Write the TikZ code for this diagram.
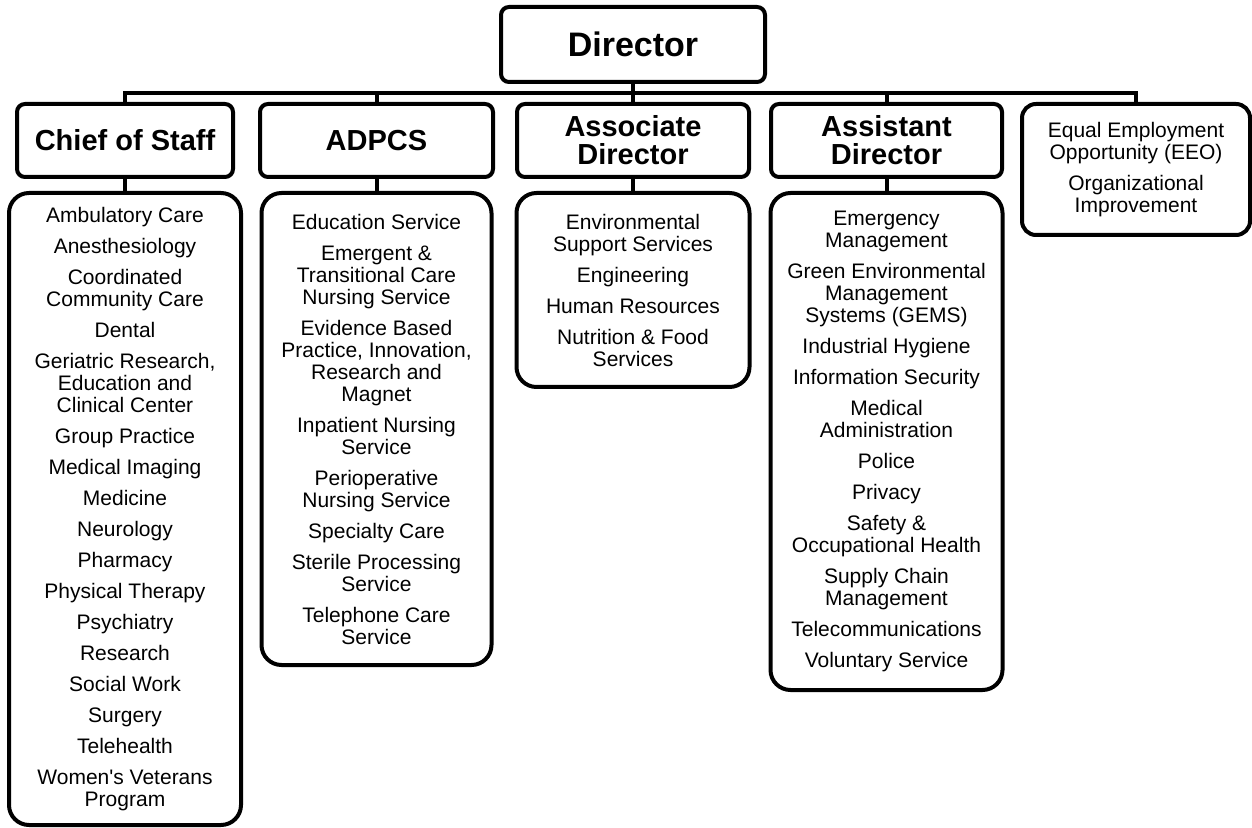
\documentclass[tikz,border=0pt]{standalone}
\usepackage{fontspec}
\setmainfont{Liberation Sans}
\begin{document}
\begin{tikzpicture}[x=0.5pt,y=-0.5pt,line width=2pt,
    topbox/.style={draw, rounded corners=4pt, inner sep=0pt,
        font=\fontsize{17}{20}\selectfont\bfseries},
    deptbox/.style={draw, rounded corners=4pt, inner sep=0pt, align=center,
        minimum height=36.5pt, font=\fontsize{14.5}{14}\selectfont\bfseries},
    listbox/.style={draw, rounded corners=10pt, inner sep=0pt, align=center,
        font=\fontsize{10.5}{11}\selectfont}]
    \def\gap{\\[4.5pt]}
    \useasboundingbox (0,0) rectangle (1252,828);

    % Director
    \node[topbox, minimum width=132pt, minimum height=37.5pt] (dir) at (633,44.5) {Director};

    % Second row
    \node[deptbox, minimum width=108pt] (cos) at (125,140.5) {Chief of Staff};
    \node[deptbox, minimum width=116.5pt] (adpcs) at (376.5,140.5) {ADPCS};
    \node[deptbox, minimum width=116pt] (adir) at (633,140.5) {Associate\\Director};
    \node[deptbox, minimum width=115.5pt] (asst) at (886.5,140.5) {Assistant\\Director};
    \node[listbox, rounded corners=7pt, minimum width=114pt, minimum height=65.5pt] (eeo) at (1136,169.5)
        {Equal Employment\\Opportunity (EEO)\gap Organizational\\Improvement};

    % Service lists
    \node[listbox, minimum width=116pt, minimum height=316pt] (cosl) at (125,509)
        {Ambulatory Care\gap Anesthesiology\gap Coordinated\\Community Care\gap Dental\gap
         Geriatric Research,\\Education and\\Clinical Center\gap Group Practice\gap
         Medical Imaging\gap Medicine\gap Neurology\gap Pharmacy\gap Physical Therapy\gap
         Psychiatry\gap Research\gap Social Work\gap Surgery\gap Telehealth\gap
         Women\textquotesingle s Veterans\\Program};
    \node[listbox, minimum width=115pt, minimum height=236pt] (adpcsl) at (376.5,429)
        {Education Service\gap Emergent \&\\Transitional Care\\Nursing Service\gap
         Evidence Based\\Practice, Innovation,\\Research and\\Magnet\gap
         Inpatient Nursing\\Service\gap Perioperative\\Nursing Service\gap
         Specialty Care\gap Sterile Processing\\Service\gap Telephone Care\\Service};
    \node[listbox, minimum width=116.5pt, minimum height=97pt] (adirl) at (633,290)
        {Environmental\\Support Services\gap Engineering\gap Human Resources\gap
         Nutrition \& Food\\Services};
    \node[listbox, minimum width=116pt, minimum height=248.5pt] (asstl) at (886.5,441.5)
        {Emergency\\Management\gap Green Environmental\\Management\\Systems (GEMS)\gap
         Industrial Hygiene\gap Information Security\gap Medical\\Administration\gap
         Police\gap Privacy\gap Safety \&\\Occupational Health\gap
         Supply Chain\\Management\gap Telecommunications\gap Voluntary Service};

    % Connectors
    \coordinate (bus) at (0,93);
    \draw (cos.north) -- (cos.north |- bus) -- (eeo.north |- bus) -- (eeo.north);
    \draw (dir) -- (adir);
    \foreach \n in {adpcs,asst} {
        \draw (\n.north) -- (\n.north |- bus);
    }
    \foreach \n in {cos,adpcs,adir,asst} {
        \draw (\n) -- (\n l);
    }
\end{tikzpicture}
\end{document}
